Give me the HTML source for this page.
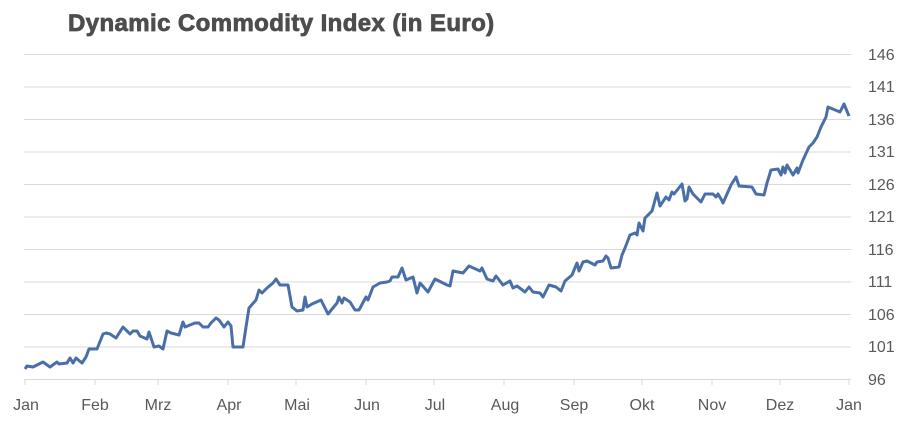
<!DOCTYPE html>
<html><head><meta charset="utf-8"><style>
body{margin:0;background:#fff;width:905px;height:419px;overflow:hidden;font-family:"Liberation Sans",sans-serif}
</style></head><body>
<svg width="905" height="419" viewBox="0 0 905 419" xmlns="http://www.w3.org/2000/svg">
<text x="68" y="31" font-family="Liberation Sans,sans-serif" font-weight="bold" font-size="24" letter-spacing="0.4" fill="#4d4d4d" stroke="#4d4d4d" stroke-width="0.8">Dynamic Commodity Index (in Euro)</text>
<g stroke="#d9d9d9" stroke-width="1">
<line x1="24" x2="851" y1="54.5" y2="54.5"/><line x1="24" x2="851" y1="87" y2="87"/><line x1="24" x2="851" y1="119.5" y2="119.5"/><line x1="24" x2="851" y1="152" y2="152"/><line x1="24" x2="851" y1="184.5" y2="184.5"/><line x1="24" x2="851" y1="217" y2="217"/><line x1="24" x2="851" y1="249.5" y2="249.5"/><line x1="24" x2="851" y1="282" y2="282"/><line x1="24" x2="851" y1="314.5" y2="314.5"/><line x1="24" x2="851" y1="347" y2="347"/><line x1="24" x2="851" y1="379.5" y2="379.5"/>
<line x1="25" x2="25" y1="379" y2="385"/><line x1="95" x2="95" y1="379" y2="385"/><line x1="158" x2="158" y1="379" y2="385"/><line x1="228" x2="228" y1="379" y2="385"/><line x1="296" x2="296" y1="379" y2="385"/><line x1="366" x2="366" y1="379" y2="385"/><line x1="434" x2="434" y1="379" y2="385"/><line x1="504" x2="504" y1="379" y2="385"/><line x1="574" x2="574" y1="379" y2="385"/><line x1="642" x2="642" y1="379" y2="385"/><line x1="712" x2="712" y1="379" y2="385"/><line x1="780" x2="780" y1="379" y2="385"/><line x1="849" x2="849" y1="379" y2="385"/>
</g>
<g font-size="16" fill="#595959" text-anchor="start">
<text x="868" y="60">146</text><text x="868" y="92">141</text><text x="868" y="125">136</text><text x="868" y="157">131</text><text x="868" y="190">126</text><text x="868" y="222">121</text><text x="868" y="255">116</text><text x="868" y="287">111</text><text x="868" y="320">106</text><text x="868" y="352">101</text><text x="868" y="385">96</text>
</g>
<g font-size="16" fill="#595959" text-anchor="middle">
<text x="26" y="410">Jan</text><text x="95" y="410">Feb</text><text x="158" y="410">Mrz</text><text x="229" y="410">Apr</text><text x="297" y="410">Mai</text><text x="367" y="410">Jun</text><text x="435" y="410">Jul</text><text x="505" y="410">Aug</text><text x="574" y="410">Sep</text><text x="642" y="410">Okt</text><text x="712" y="410">Nov</text><text x="780" y="410">Dez</text><text x="849" y="410">Jan</text>
</g>
<polyline fill="none" stroke="#4a6fa8" stroke-width="3" stroke-linejoin="round" points="25,369 27,366 33,367 43,362 50,367 57,362 59,364 67,363 70,358 73,363 76,358 82,363 86,357 89,349 97,349 103,334 106,333 110,334 116,338 123,327 130,334 133,331 137,331 140,336 147,339 149,332 154,347 159,346 163,349 167,331 171,333 179,335 183,322 185,327 190,325 195,323 199,323 203,327 208,327 211,323 216,318 219,320 224,327 228,322 231,326 233,347 240,347 243,347 246,327 249,308 256,300 259,290 262,293 267,288 273,283 276,279 280,285 288,285 292,307 297,311 303,310 305,297 307,307 312,304 321,300 328,314 337,303 339,297 342,303 344,298 350,302 355,310 359,310 366,297 368,300 373,287 380,283 387,282 390,281 392,277 398,277 402,268 406,280 413,277 417,293 420,283 428,292 435,279 447,285 450,286 453,271 463,273 469,266 480,271 482,268 487,279 493,281 496,276 503,285 510,281 513,288 517,286 525,292 529,287 533,292 540,293 543,297 549,285 556,287 561,291 565,281 572,275 577,263 579,271 583,262 587,261 595,265 597,262 603,261 606,256 608,258 611,268 619,267 622,255 625,248 630,235 635,233 637,235 639,223 643,231 645,218 652,211 657,193 660,206 666,197 669,200 672,192 674,194 682,184 685,201 687,199 689,187 693,194 701,202 705,194 713,194 716,197 718,194 721,199 723,203 731,185 736,177 739,186 752,187 756,194 764,195 767,183 771,170 778,169 781,175 783,167 785,173 787,165 793,175 797,168 798,173 803,160 809,147 813,143 817,137 821,127 826,117 828,107 840,112 844,104 849,116"/>
</svg>
</body></html>
